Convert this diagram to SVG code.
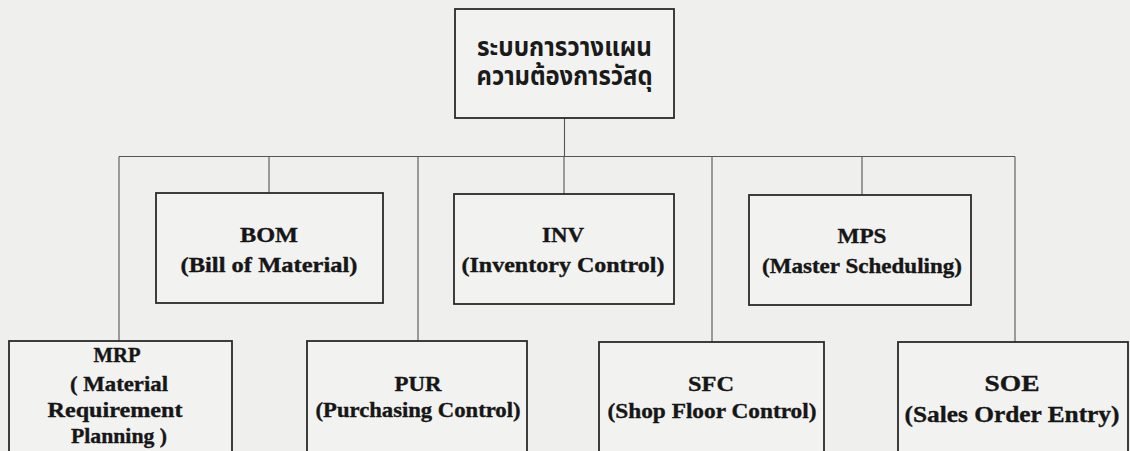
<svg xmlns="http://www.w3.org/2000/svg" width="1130" height="451" viewBox="0 0 1130 451">
<style>
.bg{fill:#efefee}
.box{fill:#f2f2f1;stroke:#2a2a2a;stroke-width:1.8}
.conn{fill:none;stroke:#555;stroke-width:1.1}
.lbl{font-family:"Liberation Serif","Times New Roman",serif;font-weight:bold;font-size:21px;fill:#161616;stroke:#161616;stroke-width:0.35;text-anchor:middle}
.big{font-size:23px}
.th{font-family:"Noto Sans Thai","Noto Sans","Noto Sans CJK SC",sans-serif;font-weight:bold;font-size:27px;fill:#1a1a1a;text-anchor:middle}
</style>
<rect class="bg" x="0" y="0" width="1130" height="451"/>
<g id="connectors">
<path class="conn" d="M564.5 118 V156.5 M119 156.5 H1015 M119 156.5 V341 M269 156.5 V193 M418 156.5 V341 M564 156.5 V194 M712 156.5 V342 M862 156.5 V195 M1015 156.5 V342"/>
</g>
<g id="root">
<rect class="box" x="455" y="9" width="219" height="109"/>
<text class="th" x="564.5" y="56" textLength="175" lengthAdjust="spacingAndGlyphs">ระบบการวางแผน</text>
<text class="th" x="564.5" y="85" textLength="176" lengthAdjust="spacingAndGlyphs">ความต้องการวัสดุ</text>
</g>
<g id="bom">
<rect class="box" x="156" y="193" width="227" height="110"/>
<text class="lbl" x="269" y="242" textLength="58" lengthAdjust="spacingAndGlyphs">BOM</text>
<text class="lbl" x="269" y="272" textLength="177" lengthAdjust="spacingAndGlyphs">(Bill of Material)</text>
</g>
<g id="inv">
<rect class="box" x="454" y="194" width="220" height="110"/>
<text class="lbl" x="563" y="242" textLength="42" lengthAdjust="spacingAndGlyphs">INV</text>
<text class="lbl" x="563" y="272" textLength="203" lengthAdjust="spacingAndGlyphs">(Inventory Control)</text>
</g>
<g id="mps">
<rect class="box" x="749" y="195" width="222" height="110"/>
<text class="lbl" x="862" y="243" textLength="49" lengthAdjust="spacingAndGlyphs">MPS</text>
<text class="lbl" x="862" y="273" textLength="200" lengthAdjust="spacingAndGlyphs">(Master Scheduling)</text>
</g>
<g id="mrp">
<rect class="box" x="9" y="341" width="223" height="125"/>
<text class="lbl" x="117" y="362" textLength="47" lengthAdjust="spacingAndGlyphs">MRP</text>
<text class="lbl" x="119" y="391" textLength="98" lengthAdjust="spacingAndGlyphs">( Material</text>
<text class="lbl" x="115" y="417" textLength="135" lengthAdjust="spacingAndGlyphs">Requirement</text>
<text class="lbl" x="119" y="443" textLength="96" lengthAdjust="spacingAndGlyphs">Planning )</text>
</g>
<g id="pur">
<rect class="box" x="307" y="341" width="220" height="125"/>
<text class="lbl" x="418" y="391" textLength="47" lengthAdjust="spacingAndGlyphs">PUR</text>
<text class="lbl" x="418" y="417" textLength="205" lengthAdjust="spacingAndGlyphs">(Purchasing Control)</text>
</g>
<g id="sfc">
<rect class="box" x="599" y="342" width="225" height="125"/>
<text class="lbl" x="711" y="391" textLength="46" lengthAdjust="spacingAndGlyphs">SFC</text>
<text class="lbl" x="712" y="418" textLength="209" lengthAdjust="spacingAndGlyphs">(Shop Floor Control)</text>
</g>
<g id="soe">
<rect class="box" x="898" y="342" width="230" height="125"/>
<text class="lbl big" x="1012" y="391" textLength="55" lengthAdjust="spacingAndGlyphs">SOE</text>
<text class="lbl big" x="1012" y="422" textLength="215" lengthAdjust="spacingAndGlyphs">(Sales Order Entry)</text>
</g>
</svg>
